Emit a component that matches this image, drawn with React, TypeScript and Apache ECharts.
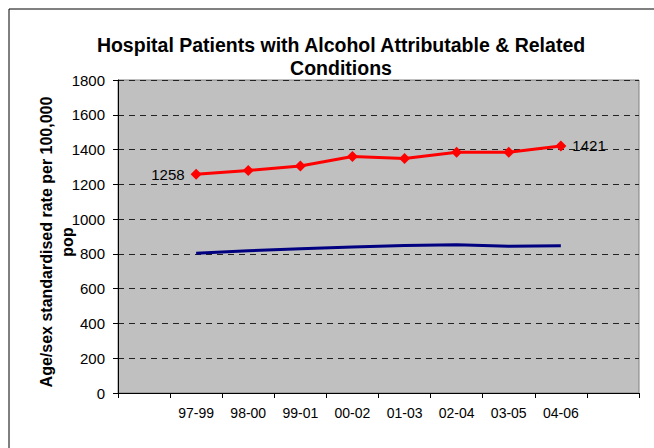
import React, { useEffect, useRef } from "react";
import * as echarts from "echarts";

const categories = ["", "97-99", "98-00", "99-01", "00-02", "01-03", "02-04", "03-05", "04-06", ""];
const alcoholAttributableRelated = [1258, 1280, 1305, 1360, 1348, 1384, 1384, 1421];
const secondSeries = [804, 818, 830, 840, 848, 852, 844, 847];
const yTicks = { min: 0, max: 1800, interval: 200 };
const yAxisTitle = "Age/sex standardised rate per 100,000\npop";

const FONT = "'Liberation Sans', Arial, sans-serif";

export default function App() {
  const ref = useRef<HTMLDivElement>(null);
  useEffect(() => {
    if (!ref.current) return;
    const chart = echarts.init(ref.current, undefined, { renderer: "svg" });
    const pad = (arr: number[]) => [null, ...arr, null];
    const redData = pad(alcoholAttributableRelated).map((v, i, a) => {
      if (i === 1) return { value: v, label: { show: true, position: "left", distance: 6 } };
      if (i === a.length - 2) return { value: v, label: { show: true, position: "right", distance: 6 } };
      return v;
    });
    chart.setOption({
      animation: false,
      backgroundColor: "#ffffff",
      textStyle: { fontFamily: FONT },
      title: {
        text: "Hospital Patients with Alcohol Attributable & Related\nConditions",
        left: 336,
        textAlign: "center",
        top: 28,
        textStyle: { fontFamily: FONT, fontSize: 19.5, fontWeight: "bold", color: "#000", lineHeight: 23 },
      },
      graphic: [
        {
          type: "rect",
          shape: { x: 9, y: 9, width: 700, height: 500 },
          style: { fill: "none", stroke: "#000", lineWidth: 1 },
          silent: true,
        },
        {
          type: "text",
          x: 57,
          y: 242,
          rotation: Math.PI / 2,
          style: {
            text: yAxisTitle,
            fontFamily: FONT,
            fontSize: 16,
            fontWeight: "bold",
            fill: "#000",
            lineHeight: 21,
            align: "center",
            verticalAlign: "middle",
          },
          silent: true,
        },
      ],
      grid: {
        left: 118,
        right: 15,
        top: 80,
        bottom: 55,
        show: true,
        backgroundColor: "#C0C0C0",
        borderColor: "#808080",
        borderWidth: 1,
      },
      xAxis: {
        type: "category",
        data: categories,
        boundaryGap: true,
        axisLine: { show: true, lineStyle: { color: "#000", width: 1 } },
        axisTick: { show: true, interval: 0, length: 5, lineStyle: { color: "#000" } },
        axisLabel: { interval: 0, color: "#000", fontFamily: FONT, fontSize: 14, margin: 13 },
        splitLine: { show: false },
      },
      yAxis: {
        type: "value",
        min: yTicks.min,
        max: yTicks.max,
        interval: yTicks.interval,
        axisLine: { show: true, lineStyle: { color: "#000", width: 1 } },
        axisTick: { show: true, length: 5, lineStyle: { color: "#000" } },
        axisLabel: { color: "#000", fontFamily: FONT, fontSize: 15, margin: 13, formatter: (v: number) => String(v) },
        splitLine: { show: true, lineStyle: { color: "#222", type: [6, 5], width: 1 } },
      },
      series: [
        {
          type: "line",
          data: redData,
          symbol: "diamond",
          symbolSize: 11,
          lineStyle: { color: "#FF0000", width: 3 },
          itemStyle: { color: "#FF0000" },
          label: { show: false, color: "#000", fontFamily: FONT, fontSize: 15 },
          z: 3,
        },
        {
          type: "line",
          data: pad(secondSeries),
          symbol: "none",
          lineStyle: { color: "#000080", width: 3 },
          itemStyle: { color: "#000080" },
          z: 2,
        },
      ],
    });
    return () => chart.dispose();
  }, []);
  return <div ref={ref} style={{ width: 654, height: 448, position: "fixed", left: 0, top: 0 }} />;
}
